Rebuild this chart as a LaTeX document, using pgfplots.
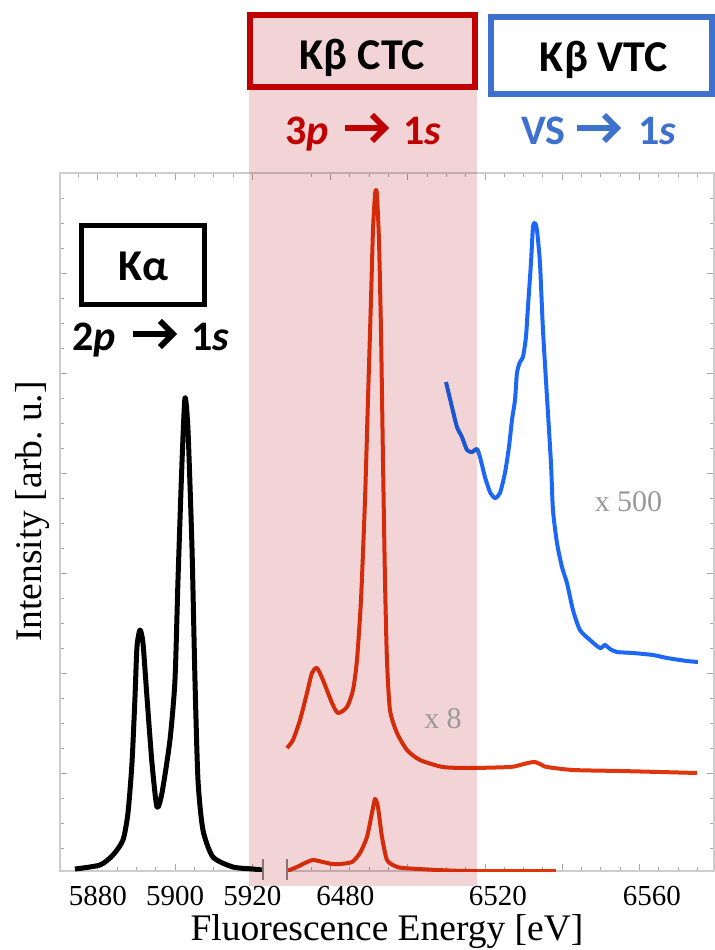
\documentclass[border=0pt]{standalone}
\usepackage{fontspec}
\setmainfont{Liberation Serif}
\newfontfamily\calib{Carlito}
\usepackage{pgfplots}
\pgfplotsset{compat=1.18}
\definecolor{pinkband}{RGB}{242,212,214}
\definecolor{ctcred}{RGB}{192,0,0}
\definecolor{vtcblue}{RGB}{62,112,206}
\definecolor{curvered}{RGB}{224,54,14}
\definecolor{curveblue}{RGB}{28,104,245}
\definecolor{framegray}{RGB}{205,205,205}
\newcommand{\parrow}[3]{%
  \draw[#3, line width=3pt] (#1,#2) -- ++(37,0);
  \draw[#3, line width=3pt, line join=miter, miter limit=10] (#1,#2) ++(27,-13) -- ++(13,13) -- ++(-13,13);}
\begin{document}
\begin{tikzpicture}
\begin{axis}[
  scale only axis, width=327pt, height=349pt,
  xmin=5870.16, xmax=6039.6, ymin=0, ymax=6.98,
  axis line style={framegray, line width=0.7pt},
  tick style={black!35, line width=0.5pt},
  major tick length=3.5pt, minor tick length=2pt,
  xtick={5880,5900,5920,5940.28,5960.28,5980.28,6000.28,6020.28},
  xticklabels={5880,5900,5920,,,,,},
  minor xtick={5875,5885,5890,5895,5905,5910,5915,5935.28,5945.28,5950.28,5955.28,5965.28,5970.28,5975.28,5985.28,5990.28,5995.28,6005.28,6010.28,6015.28,6025.28,6030.28,6035.28},
  extra x ticks={5944.12,5983.63,6023.52},
  extra x tick labels={6480,6520,6560},
  extra x tick style={major tick length=0pt},
  ytick={0.98,1.98,2.98,3.98,4.98,5.98}, yticklabels={},
  minor ytick={0.23,0.48,0.73,1.23,1.48,1.73,2.23,2.48,2.73,3.23,3.48,3.73,4.23,4.48,4.73,5.23,5.48,5.73,6.23,6.48,6.73},
  xticklabel style={font=\fontsize{14.5}{16}\selectfont, yshift=-4pt},
  /pgf/number format/assume math mode=true,
]
% K alpha (black)
\addplot[black, line width=2.5pt, line join=round, smooth, tension=0.4] table {
x y
5874.04 0.02
5880.52 0.06
5883.89 0.16
5886.48 0.31
5887.77 0.58
5888.81 1.08
5889.59 1.74
5890.10 2.24
5890.88 2.41
5891.66 2.28
5892.69 1.74
5893.99 1.08
5895.28 0.64
5896.58 0.78
5898.65 1.31
5899.95 1.91
5900.73 2.91
5901.76 4.08
5902.54 4.73
5903.32 4.41
5904.35 3.24
5905.13 1.91
5905.91 0.91
5907.20 0.41
5909.79 0.14
5914.97 0.04
5920.16 0.02
5922.49 0.01
};
% K beta, x1 (red)
\addplot[curvered, line width=2pt, line join=round, smooth, tension=0.4] table[x expr=\thisrowno{0}-534.97, y index=1] {
x y
6463.94 0.00
6466.53 0.04
6468.60 0.08
6470.67 0.11
6473.26 0.09
6475.60 0.07
6477.67 0.07
6480.78 0.09
6482.85 0.18
6484.66 0.34
6485.96 0.58
6486.74 0.72
6487.51 0.64
6488.55 0.34
6489.84 0.11
6491.92 0.05
6493.99 0.03
6502.80 0.01
6511.35 0.00
6533.63 0.00
};
% K beta, x8 (red)
\addplot[curvered, line width=2pt, line join=round, smooth, tension=0.4] table[x expr=\thisrowno{0}-534.97, y index=1] {
x y
6463.94 1.23
6465.49 1.31
6467.31 1.51
6469.12 1.78
6470.41 1.98
6471.71 2.03
6473.26 1.91
6475.60 1.68
6477.15 1.58
6479.48 1.64
6481.04 1.81
6482.07 2.11
6483.11 2.71
6484.15 3.71
6484.92 4.71
6485.70 5.71
6486.22 6.41
6486.74 6.76
6487.00 6.81
6487.25 6.76
6487.77 6.31
6488.29 5.41
6488.81 4.11
6489.33 2.91
6489.84 2.11
6490.62 1.61
6492.44 1.38
6495.03 1.21
6498.39 1.11
6504.35 1.04
6511.35 1.03
6521.71 1.04
6524.30 1.06
6526.37 1.08
6528.19 1.09
6530.00 1.06
6531.30 1.04
6538.03 1.01
6550.21 1.00
6560.57 0.99
6570.16 0.98
};
% VTC x500 (blue)
\addplot[curveblue, line width=2pt, line join=round, smooth, tension=0.4] table[x expr=\thisrowno{0}-534.97, y index=1] {
x y
6505.13 4.89
6506.68 4.64
6507.98 4.44
6509.27 4.34
6510.57 4.21
6511.87 4.19
6513.16 4.22
6513.94 4.14
6515.23 3.94
6516.53 3.79
6517.82 3.73
6519.12 3.78
6520.41 3.98
6521.45 4.24
6522.23 4.51
6523.01 4.71
6523.52 4.98
6524.30 5.09
6525.08 5.14
6525.85 5.34
6526.37 5.64
6527.15 6.08
6527.67 6.44
6528.19 6.48
6528.70 6.41
6529.48 6.08
6530.26 5.41
6531.30 4.74
6532.33 4.08
6532.85 3.61
6533.89 3.28
6535.18 3.04
6536.48 2.88
6538.03 2.61
6539.84 2.41
6542.44 2.31
6545.03 2.23
6546.32 2.26
6547.62 2.22
6549.43 2.19
6553.58 2.18
6558.76 2.16
6562.38 2.13
6567.56 2.10
6570.41 2.09
};
\end{axis}
\begin{scope}[x=0.5pt, y=-0.5pt, shift={(-30pt,435.5pt)}]
  % gap of the broken axis
  \fill[white] (264,868) rectangle (286,875);
  \draw[black!45, line width=0.6pt] (263,859) -- (263,880) (287,859) -- (287,880);
  % shaded CTC region
  \begin{scope}[blend mode=multiply]
    \fill[pinkband] (249,12) rectangle (477,886);
  \end{scope}
  % boxes
  \draw[ctcred, line width=3pt] (249.5,15.5) rectangle (475.3,87);
  \draw[vtcblue, line width=3pt] (491,16.7) rectangle (711.5,94.5);
  \draw[black, line width=2.5pt] (81.7,225.8) rectangle (204.2,304.8);
  \tikzset{boxlab/.style={anchor=base, inner sep=0pt, font=\calib\bfseries\fontsize{22}{24}\selectfont},
           trlab/.style={inner sep=0pt, font=\calib\bfseries\fontsize{21}{24}\selectfont}}
  \node[boxlab] at (362.5,70) {Kβ CTC};
  \node[boxlab] at (604,71.5) {Kβ VTC};
  \node[boxlab] at (143.3,280.7) {Kα};
  % transitions
  \node[trlab, anchor=base east, text=ctcred] at (329,145) {3\textit{p}};
  \parrow{345}{128}{ctcred}
  \node[trlab, anchor=base west, text=ctcred] at (403,145) {1\textit{s}};
  \node[trlab, anchor=base east, text=vtcblue] at (566,145) {VS};
  \parrow{577}{128}{vtcblue}
  \node[trlab, anchor=base west, text=vtcblue] at (638,145) {1\textit{s}};
  \node[trlab, anchor=base east, text=black] at (116,350.7) {2\textit{p}};
  \parrow{133}{334}{black}
  \node[trlab, anchor=base west, text=black] at (191,350.7) {1\textit{s}};
  % scale factors
  \node[anchor=base, inner sep=0pt, text=black!40, font=\fontsize{15}{16}\selectfont] at (443,728) {x 8};
  \node[anchor=base, inner sep=0pt, text=black!40, font=\fontsize{15}{16}\selectfont] at (628.5,512) {x 500};
  % axis labels
  \node[anchor=base, inner sep=0pt, font=\fontsize{18.75}{20}\selectfont] at (387,940) {Fluorescence Energy [eV]};
  \node[anchor=base, rotate=90, inner sep=0pt, font=\fontsize{18.75}{20}\selectfont] at (42,511.5) {Intensity [arb.\ u.]};
  \pgfresetboundingbox
  \path[use as bounding box] (0,0) rectangle (715,950);
\end{scope}
\end{tikzpicture}
\end{document}
